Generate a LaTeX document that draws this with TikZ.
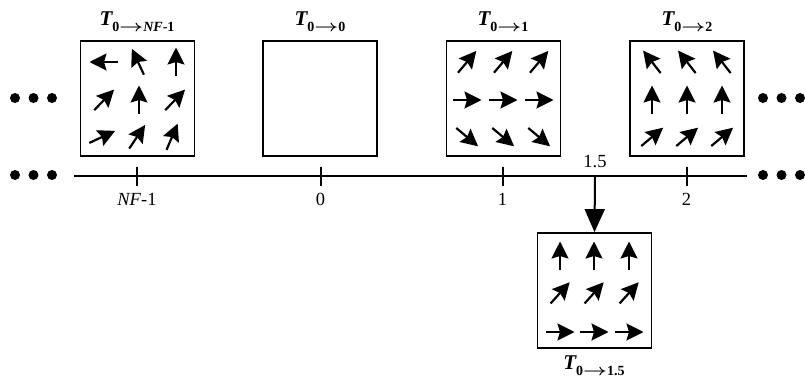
\documentclass[tikz,border=0pt]{standalone}
\usepackage{amsmath}
\usepackage{fontspec}
\setmainfont{Liberation Serif}
\usepackage{graphicx}
\usetikzlibrary{arrows.meta,calc,positioning}
\newcommand{\subarr}{\scalebox{1.45}[1.1]{\boldmath$\rightarrow$}}
\newcommand{\Tlab}[1]{{\fontsize{21}{21}\selectfont\bfseries\itshape T}\raisebox{-6pt}{\fontsize{14}{14}\selectfont\bfseries #1}}
\tikzset{
  box/.style={draw,line width=1.8pt,minimum width=114pt,minimum height=115pt,inner sep=0pt},
  vec/.style={line width=2.2pt,-{Stealth[length=17pt,width=17pt,inset=2.5pt]}},
  bigarr/.style={line width=2pt,-{Triangle[length=23pt,width=20pt]}},
  axis/.style={line width=2pt},
  tick/.style={line width=2pt},
  ticklab/.style={font=\fontsize{18.5}{18.5}\selectfont,inner sep=0pt},
  tlab/.style={inner sep=0pt},
  dot/.style={circle,fill,inner sep=0pt,minimum size=10pt}
}
\newcommand{\vecat}[3]{\draw[vec] ($(#1,#2)+(#3+180:14)$) -- ($(#1,#2)+(#3:14.5)$);}
\begin{document}
\begin{tikzpicture}[x=1pt,y=1pt]
\useasboundingbox (0,0) rectangle (805,-381);
% boxes
\node[box] (b1) at (137.5,-98.5) {};
\node[box] (b0) at (320,-98.5) {};
\node[box] (b2) at (503.5,-98.5) {};
\node[box] (b3) at (687,-98.5) {};
\node[box] (b5) at (594.5,-290.5) {};
% titles
\node[tlab] (l1) at (137,-22) {\Tlab{0\subarr\textit{NF}-1}};
\node[tlab] (l0) at (320,-22) {\Tlab{0\subarr0}};
\node[tlab] (l2) at (503,-22) {\Tlab{0\subarr1}};
\node[tlab] (l3) at (687,-22) {\Tlab{0\subarr2}};
\node[tlab] (l5) at (594,-366) {\Tlab{0\subarr1.5}};
% axis
\coordinate (axL) at (74,-176);
\coordinate (axR) at (747,-176);
\draw[axis] (axL) -- (axR);
\foreach \x/\n in {137/tA,320.5/tB,502.5/tC,686.5/tD}{
  \coordinate (\n) at (\x,-176);
  \draw[tick] ($(\n)+(0,9.5)$) -- ($(\n)+(0,-9.5)$);
}
\node[ticklab] (k1) at (137,-199) {\textit{NF}-1};
\node[ticklab] (k0) at (320.5,-199) {0};
\node[ticklab] (k2) at (502.5,-199) {1};
\node[ticklab] (k3) at (686.5,-199) {2};
\node[ticklab] (k5) at (595,-162) {1.5};
\coordinate (t15) at (595,-176);
\draw[bigarr] (t15) -- (b5.north);
% dots
\foreach \x in {15,33.5,52,763,781.5,800}{
  \node[dot] at (\x,-98) {};
  \node[dot] at (\x,-175) {};
}
% box NF-1 arrows
\vecat{104}{-62}{180}
\vecat{138}{-62}{115}
\vecat{176}{-62}{90}
\vecat{104}{-100}{46}
\vecat{139}{-100}{90}
\vecat{175}{-100}{46}
\vecat{102}{-137}{25}
\vecat{137}{-137}{56}
\vecat{172}{-137}{67}
% box 1 arrows
\foreach \x in {467,503,539}{
  \vecat{\x}{-62}{50}
  \vecat{\x}{-100}{0}
  \vecat{\x}{-137}{-40}
}
% box 2 arrows
\foreach \x in {652,687,722}{
  \vecat{\x}{-62}{128}
  \vecat{\x}{-100}{90}
  \vecat{\x}{-137}{40}
}
% box 1.5 arrows
\foreach \x in {560,594,629}{
  \vecat{\x}{-256}{90}
  \vecat{\x}{-293}{48}
  \vecat{\x}{-332}{0}
}
\end{tikzpicture}
\end{document}
